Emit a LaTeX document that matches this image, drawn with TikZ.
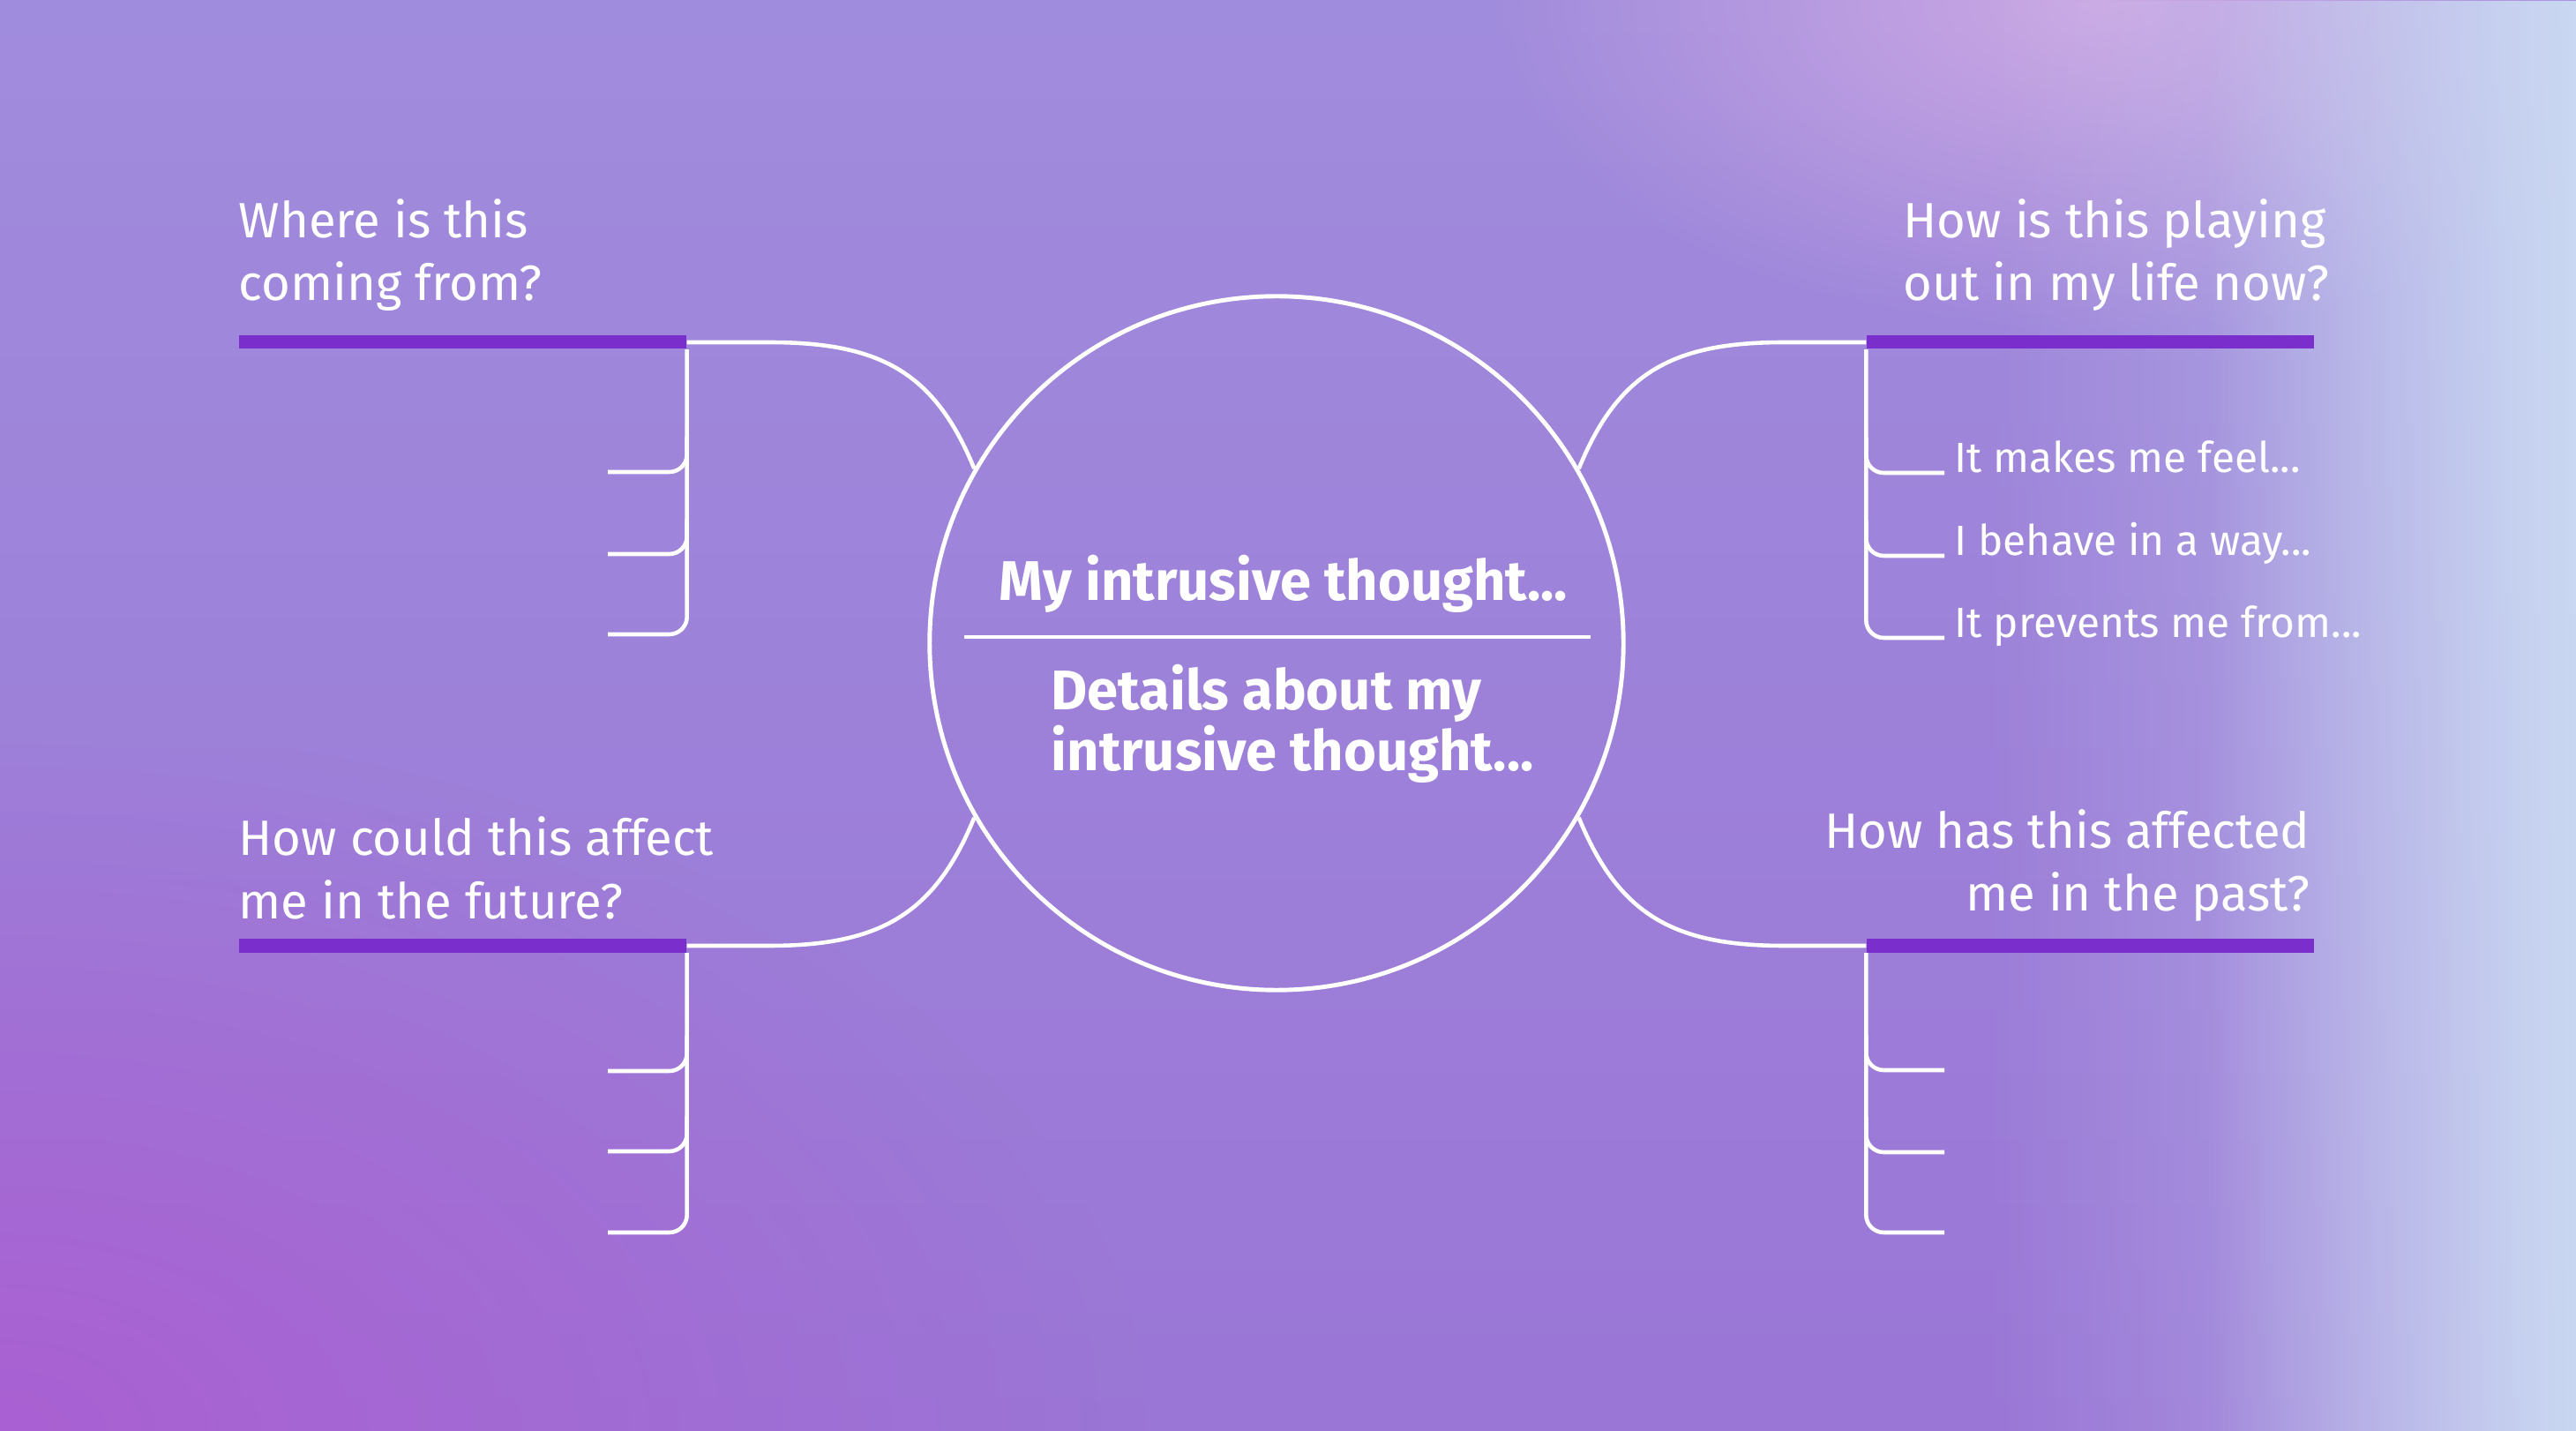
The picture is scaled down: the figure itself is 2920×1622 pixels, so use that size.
\documentclass[tikz,border=0pt]{standalone}
\usepackage{fontspec}
\setmainfont{Fira Sans}
\usetikzlibrary{fadings}
\definecolor{bgtop}{HTML}{A08CDC}
\definecolor{bgbot}{HTML}{9A76D6}
\definecolor{magglow}{HTML}{AA60D2}
\definecolor{blueglow}{HTML}{CAD8F2}
\definecolor{pinkglow}{HTML}{CCA8E4}
\definecolor{barc}{HTML}{7A2ECB}
\tikzfading[name=rglow, left color=transparent!100, middle color=transparent!80, right color=transparent!0]
\tikzfading[name=glowout, inner color=transparent!0, outer color=transparent!100]
\begin{document}
\begin{tikzpicture}[x=0.01cm, y=-0.01cm,
  wline/.style={draw=white, line width=1.3pt},
  bar/.style={fill=barc, inner sep=0pt, minimum width=5.07cm, minimum height=0.15cm},
  head/.style={text=white, font=\fontsize{16}{20.2}\selectfont, inner sep=0pt},
  item/.style={text=white, font=\fontsize{13.6}{16}\selectfont, inner sep=0pt, anchor=base west},
  ctext/.style={text=white, font=\bfseries\fontsize{18}{19.9}\selectfont, inner sep=0pt}]
\useasboundingbox (0,0) rectangle (2920,1622);
% background
\begin{scope}
\clip (0,0) rectangle (2920,1622);
\fill[top color=bgtop, bottom color=bgbot] (0,0) rectangle (2920,1622);
\fill[magglow, path fading=glowout] (0,1622) ellipse (1300 and 800);
\fill[pinkglow, path fading=glowout] (2380,0) ellipse (700 and 380);
\fill[blueglow, path fading=rglow] (2500,0) rectangle (2920,1622);
\fill[blueglow, opacity=0.5, path fading=rglow] (2250,0) rectangle (2920,1622);
\end{scope}

% centre
\node[circle, draw=white, line width=1.4pt, minimum size=7.86cm, inner sep=0pt] (c) at (1447,729) {};
\coordinate (dl) at (1093,722);
\coordinate (dr) at (1803,722);
\draw[wline] (dl) -- (dr);
\node[ctext, anchor=base] (t1) at (1455,681) {My intrusive thought...};
\node[ctext, anchor=base west, align=left] (t2) at (1191,874) {Details about my\\intrusive thought...};

% bars
\node[bar, anchor=west] (b1) at (270,388) {};
\node[bar, anchor=east] (b2) at (2624,388) {};
\node[bar, anchor=west] (b3) at (270,1072) {};
\node[bar, anchor=east] (b4) at (2624,1072) {};

% connectors to circle
\draw[wline] (b1.east) -- ++(93,0) .. controls +(125,0) and +(-45,-110) .. (c.150);
\draw[wline] (b2.west) -- ++(-93,0) .. controls +(-125,0) and +(45,-110) .. (c.30);
\draw[wline] (b3.east) -- ++(93,0) .. controls +(125,0) and +(-45,110) .. (c.210);
\draw[wline] (b4.west) -- ++(-93,0) .. controls +(-125,0) and +(45,110) .. (c.330);

% tick end points
\coordinate (l1a) at (689,535);
\coordinate (l1b) at (689,628);
\coordinate (l1c) at (689,719);
\coordinate (l2a) at (689,1214);
\coordinate (l2b) at (689,1305);
\coordinate (l2c) at (689,1397);
\coordinate (r1a) at (2204,536);
\coordinate (r1b) at (2204,630);
\coordinate (r1c) at (2204,723);
\coordinate (r2a) at (2204,1213);
\coordinate (r2b) at (2204,1306);
\coordinate (r2c) at (2204,1397);

\begin{scope}[rounded corners=0.2cm]
\draw[wline] (b1.south east) -- (b1.south east |- l1c) -- (l1c);
\draw[wline] (l1a) -- (l1a -| b1.east) -- ++(0,-40);
\draw[wline] (l1b) -- (l1b -| b1.east) -- ++(0,-40);
\draw[wline] (b3.south east) -- (b3.south east |- l2c) -- (l2c);
\draw[wline] (l2a) -- (l2a -| b3.east) -- ++(0,-40);
\draw[wline] (l2b) -- (l2b -| b3.east) -- ++(0,-40);
\draw[wline] (b2.south west) -- (b2.south west |- r1c) -- (r1c);
\draw[wline] (r1a) -- (r1a -| b2.west) -- ++(0,-40);
\draw[wline] (r1b) -- (r1b -| b2.west) -- ++(0,-40);
\draw[wline] (b4.south west) -- (b4.south west |- r2c) -- (r2c);
\draw[wline] (r2a) -- (r2a -| b4.west) -- ++(0,-40);
\draw[wline] (r2b) -- (r2b -| b4.west) -- ++(0,-40);
\end{scope}

% item labels
\node[item, xshift=0.11cm] (i1) at (r1a) {It makes me feel...};
\node[item, xshift=0.11cm] (i2) at (r1b) {I behave in a way...};
\node[item, xshift=0.11cm] (i3) at (r1c) {It prevents me from...};

% headings (base anchor = baseline of last line)
\node[head, anchor=base west, align=left] (h1) at (270,341) {Where is this\\coming from?};
\node[head, anchor=base west, align=left] (h2) at (2157,341) {How is this playing\\out in my life now?};
\node[head, anchor=base west, align=left] (h3) at (270,1041) {How could this affect\\me in the future?};
\node[head, anchor=base east, align=right] (h4) at (2619,1033) {How has this affected\\me in the past?};
\end{tikzpicture}
\end{document}
